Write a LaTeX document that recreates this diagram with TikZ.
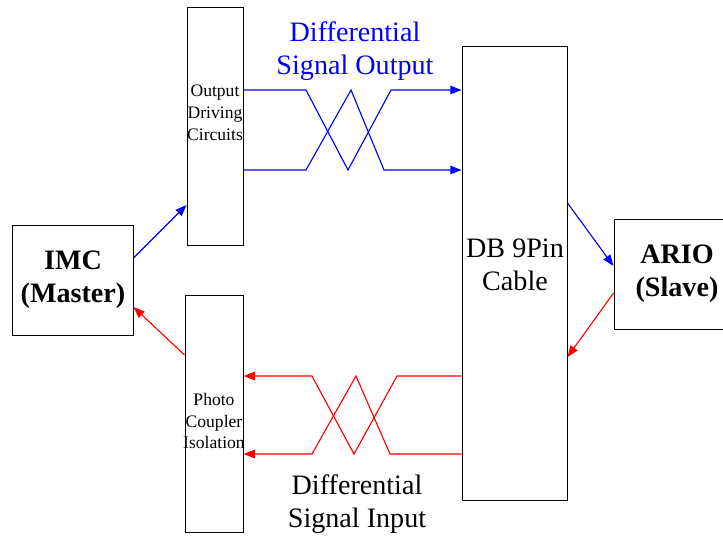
\documentclass[tikz,border=0pt]{standalone}
\usepackage{fontspec}
\setmainfont{Liberation Serif}
\usetikzlibrary{arrows.meta, positioning}
\definecolor{sigblue}{RGB}{0,0,255}
\definecolor{sigred}{RGB}{255,0,0}

\begin{document}
\begin{tikzpicture}[x=0.025cm, y=-0.025cm,
		box/.style={draw, line width=0.7pt, inner sep=0pt, align=center},
		big/.style={font=\fontsize{20}{23.5}\selectfont, align=center},
		small/.style={font=\fontsize{12.5}{15.5}\selectfont, align=center},
		sig/.style={line width=0.8pt},
		tip/.style={-{Triangle[length=8pt,width=6pt]}}]
			\useasboundingbox (0,0) rectangle (723,535);
			
			% blocks
			\node[box, big, minimum width=3cm, minimum height=2.75cm] (imc) at (73,280) {\bfseries IMC\\\bfseries(Master)};
			\node[box, minimum width=1.4cm, minimum height=5.925cm] (drv) at (215,126.5) {};
			\node[box, minimum width=1.45cm, minimum height=5.9cm] (iso) at (214,414) {};
			\node[box, big, minimum width=2.625cm, minimum height=11.325cm] (db) at (514.5,273.5) {};
			\node[box, big, minimum width=3.15cm, minimum height=2.75cm] (ario) at (677,274) {\bfseries ARIO\\\bfseries(Slave)};
			
			% texts
			\node[small] (drvtxt) at (215,113) {Output\\Driving\\Circuits};
			\node[small] (isotxt) at (214,421) {Photo\\Coupler\\Isolation};
			\node[big] (dbtxt) at (515,265) {DB 9Pin\\Cable};
			\node[big, text=sigblue] (outtxt) at (355,51) {Differential\\Signal Output};
			\node[big] (intxt) at (357,504) {Differential\\Signal Input};
			
			% output pair
			\draw[sig, sigblue, tip] (drv.east |- 0,90) -- (306,90) -- (348,170) -- (391,90) -- (db.west |- 0,90);
			\draw[sig, sigblue, tip] (drv.east |- 0,170) -- (306,170) -- (351,90) -- (384,170) -- (db.west |- 0,170);
			
			% input pair
			\draw[sig, sigred, tip] (db.west |- 0,376) -- (397,376) -- (354,454) -- (312,376) -- (iso.east |- 0,376);
			\draw[sig, sigred, tip] (db.west |- 0,454) -- (390,454) -- (356,376) -- (312,454) -- (iso.east |- 0,454);
			
			% links
			\draw[sig, sigblue, tip] (imc.east |- 0,258) -- (drv.west |- 0,205);
			\draw[sig, sigred, tip] (iso.west |- 0,355) -- (imc.east |- 0,307);
			\draw[sig, sigblue, tip] (db.east |- 0,203) -- (ario.west |- 0,266);
			\draw[sig, sigred, tip] (ario.west |- 0,293) -- (db.east |- 0,357);
		\end{tikzpicture}
\end{document}
